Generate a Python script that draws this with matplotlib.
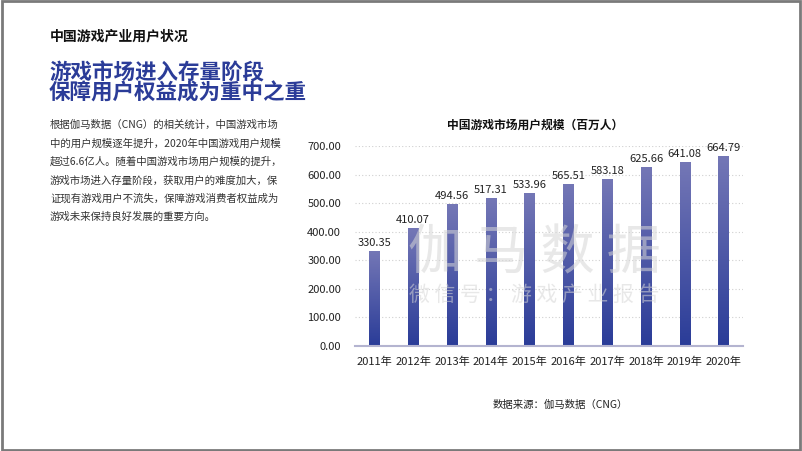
import numpy as np
import matplotlib
matplotlib.use("Agg")
import matplotlib.pyplot as plt
from matplotlib.colors import LinearSegmentedColormap
from matplotlib.patches import Rectangle

plt.rcParams['font.family'] = ['Noto Sans CJK SC', 'DejaVu Sans']

years = ['2011年', '2012年', '2013年', '2014年', '2015年',
         '2016年', '2017年', '2018年', '2019年', '2020年']
users = [330.35, 410.07, 494.56, 517.31, 533.96,
         565.51, 583.18, 625.66, 641.08, 664.79]
yticks = [0, 100, 200, 300, 400, 500, 600, 700]

section = '中国游戏产业用户状况'
headline = ['游戏市场进入存量阶段', '保障用户权益成为重中之重']
body = ['根据伽马数据（CNG）的相关统计，中国游戏市场',
        '中的用户规模逐年提升，2020年中国游戏用户规模',
        '超过6.6亿人。随着中国游戏市场用户规模的提升，',
        '游戏市场进入存量阶段，获取用户的难度加大，保',
        '证现有游戏用户不流失，保障游戏消费者权益成为',
        '游戏未来保持良好发展的重要方向。']
chart_title = '中国游戏市场用户规模（百万人）'
source = '数据来源：伽马数据（CNG）'

fig = plt.figure(figsize=(8.02, 4.51), dpi=100)
fig.patch.set_facecolor('white')

# frame around the slide
fig.add_artist(Rectangle((0.002, 0.003), 0.996, 0.994, transform=fig.transFigure,
                         fill=False, edgecolor='#7a7a7a', linewidth=2))

fig.text(50/802, 1-37/451, section, fontsize=10, fontweight='heavy',
         color='#111111', va='center')
fig.text(49/802, 1-73/451, headline[0], fontsize=15.5, fontweight='heavy',
         color='#2b3c98', va='center')
fig.text(49/802, 1-93/451, headline[1], fontsize=15.5, fontweight='heavy',
         color='#2b3c98', va='center')
for i, line in enumerate(body):
    fig.text(50/802, 1-(125 + i*18.4)/451, line, fontsize=7.5,
             color='#333333', va='center')

ax = fig.add_axes([355/802, 1-346/451, 388/802, 200/451])

cmap = LinearSegmentedColormap.from_list('bar', ['#2a3c98', '#7477b6'])
grad = np.linspace(0, 1, 256).reshape(-1, 1)
w = 0.27
x = np.arange(len(years))
for xi, v in zip(x, users):
    ax.imshow(grad, cmap=cmap, origin='lower', aspect='auto',
              extent=[xi - w/2, xi + w/2, 0, v], zorder=3)
    ax.text(xi, v + 12, f'{v:.2f}', ha='center', va='bottom',
            fontsize=8, color='#222222', clip_on=False)
ax.set_xlim(-0.5, 9.5)
ax.set_ylim(0, 700)

ax.set_yticks(yticks)
ax.set_yticklabels([f'{t:.2f}' for t in yticks])
ax.set_xticks(x)
ax.set_xticklabels(years)
ax.tick_params(axis='both', length=0, labelsize=8, colors='#222222')
ax.tick_params(axis='y', pad=10)
ax.tick_params(axis='x', pad=8)
ax.grid(axis='y', linestyle=(0, (1, 2)), color='#d0d0d0', linewidth=0.8, zorder=0)
for s in ['top', 'right', 'left']:
    ax.spines[s].set_visible(False)
ax.spines['bottom'].set_color('#b4b4d0')
ax.spines['bottom'].set_linewidth(1.5)
ax.spines['bottom'].set_zorder(4)

fig.text(535/802, 1-125/451, chart_title, fontsize=8.5, fontweight='bold',
         color='#111111', ha='center', va='center')

# watermark
fig.text(534/802, 1-254/451, '伽 马 数 据', fontsize=39, color='#d6d6d6',
         alpha=0.55, ha='center', va='center', zorder=5)
fig.text(534/802, 1-295/451, '微 信 号 ： 游 戏 产 业 报 告', fontsize=15,
         color='#d6d6d6', alpha=0.55, ha='center', va='center', zorder=5)

fig.text(560/802, 1-405/451, source, fontsize=7.5, color='#222222',
         ha='center', va='center')

fig.savefig('out.png', dpi=100)
